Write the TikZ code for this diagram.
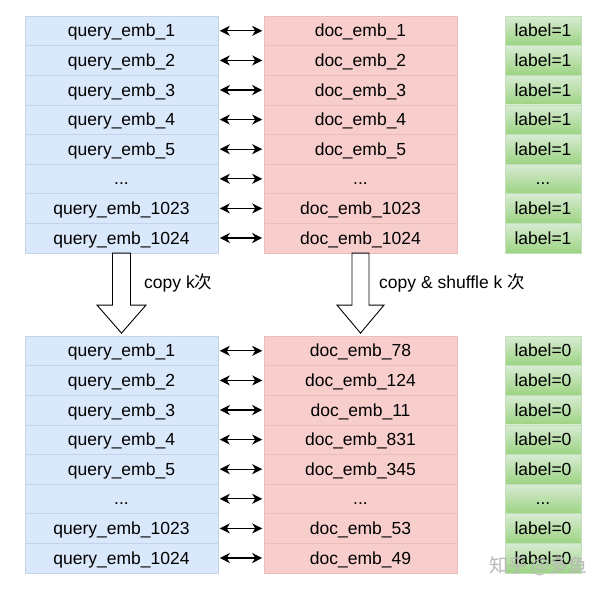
\documentclass[tikz,border=0pt]{standalone}
\usepackage{fontspec}
\setmainfont{Liberation Sans}
\newfontfamily\cjk{Noto Sans CJK SC}
\usetikzlibrary{arrows.meta}
\definecolor{qfill}{HTML}{DAE8FC}
\definecolor{qline}{HTML}{C2D3EA}
\definecolor{dfill}{HTML}{F8CECC}
\definecolor{dline}{HTML}{EBBDBC}
\definecolor{gtop}{HTML}{D8EBD4}
\definecolor{gbot}{HTML}{9CD482}
\definecolor{gline}{HTML}{C4E0BA}
\newcommand\myell{...}
\begin{document}
\begin{tikzpicture}[x=1pt,y=-1pt,
  txt/.style={font=\fontsize{17.5}{21}\selectfont},
  cell/.style={txt, minimum height=29.6pt, inner sep=0pt, text height=12.6pt, text depth=0.6pt, line width=0.6pt},
  qbox/.style={cell, minimum width=193pt, draw=qline, fill=qfill},
  dbox/.style={cell, minimum width=193pt, draw=dline, fill=dfill},
  lbox/.style={cell, minimum width=76pt, draw=gline, top color=gtop, bottom color=gbot},
  dbl/.style={line width=1.3pt, {Stealth[length=10pt,width=10pt,inset=3pt]}-{Stealth[length=10pt,width=10pt,inset=3pt]}, shorten <=1.5pt, shorten >=1.5pt},
  barrow/.style={draw=black, fill=white, line width=0.9pt, line join=miter}
]
\useasboundingbox (0,0) rectangle (600,592);
\fill[white] (0,0) rectangle (600,592);

\foreach \i/\q/\d/\l in {
  1/query\_emb\_1/doc\_emb\_1/label=1,
  2/query\_emb\_2/doc\_emb\_2/label=1,
  3/query\_emb\_3/doc\_emb\_3/label=1,
  4/query\_emb\_4/doc\_emb\_4/label=1,
  5/query\_emb\_5/doc\_emb\_5/label=1,
  6/\myell/\myell/\myell,
  7/query\_emb\_1023/doc\_emb\_1023/label=1,
  8/query\_emb\_1024/doc\_emb\_1024/label=1} {
  \node[qbox] (qa\i) at (121.5, {16+29.6*(\i-0.5)}) {\q};
  \node[dbox] (da\i) at (360.5, {16+29.6*(\i-0.5)}) {\d};
  \node[lbox] (la\i) at (543, {16+29.6*(\i-0.5)}) {\l};
  \draw[dbl] (qa\i.east) -- (da\i.west);
}

\foreach \i/\q/\d/\l in {
  1/query\_emb\_1/doc\_emb\_78/label=0,
  2/query\_emb\_2/doc\_emb\_124/label=0,
  3/query\_emb\_3/doc\_emb\_11/label=0,
  4/query\_emb\_4/doc\_emb\_831/label=0,
  5/query\_emb\_5/doc\_emb\_345/label=0,
  6/\myell/\myell/\myell,
  7/query\_emb\_1023/doc\_emb\_53/label=0,
  8/query\_emb\_1024/doc\_emb\_49/label=0} {
  \node[qbox] (qb\i) at (121.5, {336+29.6*(\i-0.5)}) {\q};
  \node[dbox] (db\i) at (360.5, {336+29.6*(\i-0.5)}) {\d};
  \node[lbox] (lb\i) at (543, {336+29.6*(\i-0.5)}) {\l};
  \draw[dbl] (qb\i.east) -- (db\i.west);
}

\begin{scope}[shift={(qa8.south)}]
  \draw[barrow] (-9,0) -- (-9,52) -- (-24.5,52) -- (0,80) -- (24.5,52) -- (9,52) -- (9,0) -- cycle;
\end{scope}
\begin{scope}[shift={(da8.south)}]
  \draw[barrow] (-8.5,0) -- (-8.5,52) -- (-23.5,52) -- (0,80) -- (23.5,52) -- (8.5,52) -- (8.5,0) -- cycle;
\end{scope}

\node[txt, anchor=west, inner sep=0pt] (c1) at (144,283) {copy k{\cjk 次}};
\node[txt, anchor=west, inner sep=0pt] (c2) at (379,283) {copy \& shuffle k {\cjk 次}};

\node[anchor=west, inner sep=0pt, text=gray!55, font=\cjk\fontsize{19}{22}\selectfont] (wm) at (489,566) {知乎 @多鱼};
\end{tikzpicture}
\end{document}
